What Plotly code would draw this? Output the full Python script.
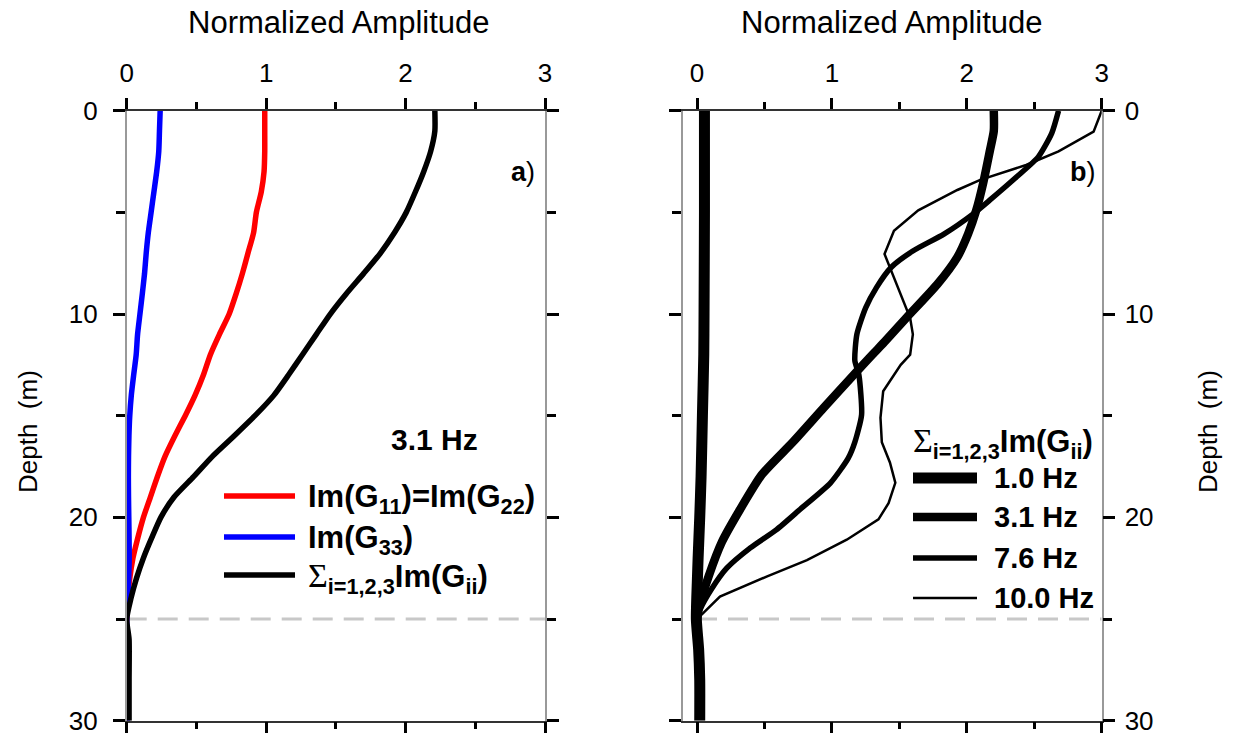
import plotly.graph_objects as go

# ---------------- data ----------------
# Panel a: 3.1 Hz components vs depth (m)
depth_a = [0, 1, 2, 3, 4, 5, 6, 7, 8, 9, 10, 11, 12, 13, 14, 15, 16, 17, 18, 19,
           20, 21, 22, 23, 24, 25, 26, 28, 30]
im_g11_g22 = [0.99, 0.99, 0.99, 0.985, 0.965, 0.93, 0.91, 0.87, 0.83, 0.785, 0.735,
              0.665, 0.60, 0.55, 0.49, 0.42, 0.345, 0.275, 0.22, 0.17, 0.12, 0.08,
              0.045, 0.022, 0.008, 0.0, -0.012, -0.012, -0.012]
im_g33 = [0.24, 0.235, 0.23, 0.215, 0.195, 0.175, 0.155, 0.14, 0.128, 0.112, 0.095,
          0.078, 0.068, 0.05, 0.033, 0.022, 0.016, 0.013, 0.012, 0.013, 0.015, 0.017,
          0.018, 0.014, 0.007, 0.0, 0.005, 0.005, 0.005]
sum_im_a = [2.21, 2.21, 2.18, 2.13, 2.07, 2.005, 1.92, 1.82, 1.70, 1.575, 1.46, 1.36,
            1.26, 1.16, 1.055, 0.92, 0.77, 0.615, 0.48, 0.34, 0.245, 0.18, 0.12, 0.07,
            0.03, 0.0, 0.017, 0.017, 0.017]

# Panel b: sum of Im(Gii) at several frequencies
depth_1hz = [0, 5, 10, 12, 15, 18, 20, 22, 23, 25, 26.5, 28, 30]
sum_1hz = [0.055, 0.055, 0.052, 0.05, 0.04, 0.03, 0.02, 0.008, 0.003, -0.005, 0.012, 0.02, 0.02]

depth_3hz = [0, 1, 2, 3.6, 4.9, 6.05, 7.2, 8.55, 10.2, 11.3, 12, 13, 14.6, 16.3, 17.9,
             19.6, 21.2, 22.9, 24.5, 25]
sum_3hz = [2.20, 2.20, 2.17, 2.12, 2.07, 2.01, 1.93, 1.78, 1.55, 1.40, 1.30, 1.16, 0.94,
           0.71, 0.48, 0.32, 0.185, 0.086, 0.012, 0.0]

depth_7hz = [0, 1.1, 2.27, 3.25, 4.4, 5.06, 6.07, 6.9, 7.7, 8.7, 9.7, 11, 12.3, 13,
             14.95, 16.3, 17.1, 18.3, 19.6, 20.6, 21.5, 22.5, 23.5, 24.5, 25]
sum_7hz = [2.68, 2.63, 2.53, 2.37, 2.17, 2.05, 1.83, 1.60, 1.44, 1.33, 1.25, 1.185, 1.17,
           1.20, 1.22, 1.17, 1.12, 0.99, 0.765, 0.59, 0.395, 0.22, 0.11, 0.025, 0.0]

depth_10hz = [0, 1.03, 2.0, 2.67, 3.4, 3.9, 4.9, 5.9, 7.05, 8.55, 10.2, 11, 12, 12.5,
              13.8, 15.1, 16.3, 17.3, 18.3, 19.3, 20.1, 21.1, 22.1, 22.9, 23.9, 25]
sum_10hz = [3.0, 2.94, 2.68, 2.44, 2.10, 1.93, 1.64, 1.46, 1.39, 1.48, 1.58, 1.60, 1.58,
            1.51, 1.38, 1.36, 1.37, 1.43, 1.47, 1.42, 1.345, 1.11, 0.815, 0.52, 0.17, 0.0]

layer_depth = 25
x_ticks = [0, 1, 2, 3]
depth_ticks = [0, 10, 20, 30]

# ---------------- styling ----------------
W, H = 1234, 740
FONT = "Liberation Sans, Arial, Helvetica, sans-serif"
SIGMA = ("<span style=\"font-family:'Liberation Serif',serif;font-weight:normal;"
         "font-size:1.1em\">Σ</span>")


def px_x(p):
    return p / W


def px_y(p):
    return 1 - p / H


y_dom = [px_y(720.7), px_y(110.7)]
dom_a = [px_x(126.7), px_x(545)]
dom_b = [px_x(683), px_x(1101.7)]

fig = go.Figure()

# panel a
for xs, col in ((im_g11_g22, "#ff0000"), (im_g33, "#0000ff"), (sum_im_a, "#000000")):
    fig.add_trace(go.Scatter(x=xs, y=depth_a, mode="lines",
                             line=dict(color=col, width=5.5, shape="spline", smoothing=0.6),
                             xaxis="x", yaxis="y"))

# panel b
b_series = [(sum_1hz, depth_1hz, 11, "spline"), (sum_3hz, depth_3hz, 8.5, "spline"),
            (sum_7hz, depth_7hz, 5.5, "spline"), (sum_10hz, depth_10hz, 2.5, "linear")]
for xs, ys, w, shp in b_series:
    line = dict(color="#000000", width=w, shape=shp)
    if shp == "spline":
        line["smoothing"] = 0.6
    fig.add_trace(go.Scatter(x=xs, y=ys, mode="lines", line=line, xaxis="x2", yaxis="y2"))

common_x = dict(side="top", showline=True, linecolor="#333333", linewidth=1.5,
                mirror="ticks", ticks="outside", ticklen=11, tickwidth=2.5,
                tickcolor="#000000", tickvals=x_ticks, showgrid=False, zeroline=False,
                automargin=False,
                tickfont=dict(family=FONT, size=26, color="#000000"),
                ticklabelstandoff=6,
                minor=dict(dtick=0.5, tick0=0, ticks="outside", ticklen=7,
                           tickwidth=2.5, tickcolor="#000000", showgrid=False))
common_y = dict(range=[30, 0], showline=True, linecolor="#999999", linewidth=1.5,
                mirror="ticks", ticks="outside", ticklen=12, tickwidth=2.5,
                tickcolor="#000000", tickvals=depth_ticks, showgrid=False, zeroline=False,
                automargin=False,
                tickfont=dict(family=FONT, size=26, color="#000000"),
                minor=dict(dtick=5, tick0=0, ticks="outside", ticklen=9,
                           tickwidth=2.5, tickcolor="#000000", showgrid=False))

fig.update_layout(
    width=W, height=H, margin=dict(l=0, r=0, t=0, b=0, autoexpand=False),
    paper_bgcolor="white", plot_bgcolor="white", showlegend=False,
    font=dict(family=FONT, color="#000000"),
    xaxis=dict(domain=dom_a, range=[0, 3], anchor="y", **common_x),
    yaxis=dict(domain=y_dom, anchor="x", side="left", ticklabelstandoff=10, **common_y),
    xaxis2=dict(domain=dom_b, range=[-0.104, 3], anchor="y2", **common_x),
    yaxis2=dict(domain=y_dom, anchor="x2", side="right", ticklabelstandoff=4, **common_y),
)

# dashed layer boundary
for xr, yr in (("x", "y"), ("x2", "y2")):
    fig.add_shape(type="line", xref=xr, yref=yr, x0=0, x1=3, y0=layer_depth, y1=layer_depth,
                  line=dict(color="#c8c8c8", width=3, dash="20px,11px"), layer="below")

annotations = []


def text(x, y, s, size, xanchor="center", angle=0, bold=False):
    annotations.append(dict(x=px_x(x), y=px_y(y), xref="paper", yref="paper", text=s,
                            showarrow=False, xanchor=xanchor, yanchor="middle",
                            textangle=angle,
                            font=dict(family=FONT, size=size, color="#000000",
                                      weight="bold" if bold else "normal")))


# axis titles
text(339, 22, "Normalized Amplitude", 31)
text(892, 22, "Normalized Amplitude", 31)
text(28, 432, "Depth&nbsp; (m)", 26, angle=-90)
text(1208, 432, "Depth&nbsp; (m)", 26, angle=-90)

# panel tags
text(523, 172, "<b>a</b>)", 27)
text(1083, 172, "<b>b</b>)", 27)

# panel a key
text(434, 439, "3.1 Hz", 30, bold=True)
key_a = [("#ff0000", 496, "Im(G<sub>11</sub>)=Im(G<sub>22</sub>)"),
         ("#0000ff", 537, "Im(G<sub>33</sub>)"),
         ("#000000", 575, SIGMA + "<sub>i=1,2,3</sub>Im(G<sub>ii</sub>)")]
for col, yy, label in key_a:
    fig.add_shape(type="line", xref="paper", yref="paper", x0=px_x(224), x1=px_x(295),
                  y0=px_y(yy), y1=px_y(yy), line=dict(color=col, width=5.5))
    text(306, yy + 3, label, 31, xanchor="left", bold=True)

# panel b key
text(911, 443, SIGMA + "<sub>i=1,2,3</sub>Im(G<sub>ii</sub>)", 31, xanchor="left", bold=True)
key_b = [(478, 11, "1.0 Hz"), (517, 8.5, "3.1 Hz"), (558, 5.5, "7.6 Hz"), (598, 2.5, "10.0 Hz")]
for yy, w, label in key_b:
    fig.add_shape(type="line", xref="paper", yref="paper", x0=px_x(913), x1=px_x(977),
                  y0=px_y(yy), y1=px_y(yy), line=dict(color="#000000", width=w))
    text(992, yy, label, 29, xanchor="left", bold=True)

fig.update_layout(annotations=annotations)
fig.write_html("out.html")
